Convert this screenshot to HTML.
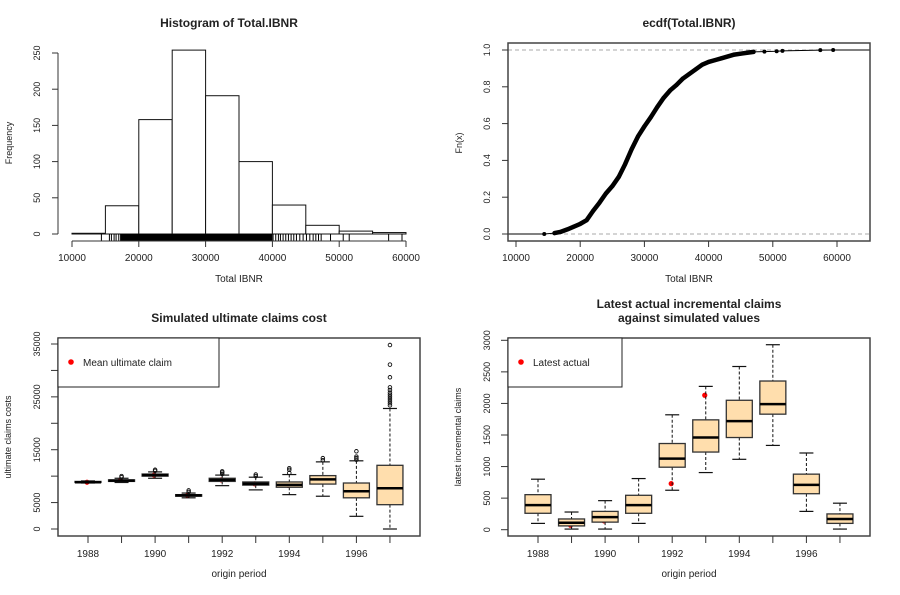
<!DOCTYPE html>
<html><head><meta charset="utf-8"><style>
html,body{margin:0;padding:0;background:#fff;}
svg text{font-family:"Liberation Sans",sans-serif;fill:#222;}
</style></head><body>
<svg id="s" width="900" height="590" viewBox="0 0 900 590" xmlns="http://www.w3.org/2000/svg"></svg>
<script>
// ---- Histogram data ----
const histBreaks = [10000,15000,20000,25000,30000,35000,40000,45000,50000,55000,60000];
const histCounts = [1,39,158,254,191,100,40,12,4,2];
const histYTicks = [0,50,100,150,200,250];
const ibnrXTicks = [10000,20000,30000,40000,50000,60000];
const rugValues = [14400,15600,15900,16300,16600,17000,17400,17800,18100,18600,19000,19300,19600,19900,20200,20500,20800,21100,21400,21700,22000,22300,22600,22900,23200,23500,23800,24100,24400,24700,25000,25300,25600,25900,26200,26500,26800,27100,27400,27700,28000,28300,28600,28900,29200,29500,29800,30100,30400,30700,31000,31300,31600,31900,32200,32500,32800,33100,33400,33700,34000,34300,34600,34900,35200,35500,35800,36100,36400,36700,37000,37300,37600,37900,38200,38500,38800,39100,39400,39700,40100,40500,40900,41200,41600,42000,42400,42800,43200,43600,44100,44600,45100,45600,46100,46500,46900,47300,48700,50600,51500,57400,59400];
// ---- ECDF data ----
const ecdfX = [14400,16000,17000,18000,19000,20000,21000,22000,23000,24000,25000,26000,27000,28000,29000,30000,31000,32000,33000,34000,35000,36000,37000,38000,39000,40000,41000,42000,43000,44000,45000,46000,47000,48700,50600,51500,57400,59400];
const ecdfY = [0.0,0.005,0.012,0.025,0.04,0.055,0.075,0.125,0.17,0.22,0.26,0.31,0.38,0.46,0.53,0.585,0.635,0.69,0.74,0.78,0.81,0.845,0.87,0.895,0.92,0.935,0.945,0.955,0.965,0.975,0.98,0.985,0.99,0.991,0.993,0.995,0.999,1.0];
const ecdfYTicks = [0,0.2,0.4,0.6,0.8,1.0];
// ---- Box plot data ----
const years = [1988,1989,1990,1991,1992,1993,1994,1995,1996,1997];
const yearLabels = ["1988","","1990","","1992","","1994","","1996",""];
const ultLow = [8700,8800,9600,5900,8200,7400,6500,6200,2400,0];
const ultQ1 = [8800,9000,10000,6200,9000,8300,7900,8500,5900,4600];
const ultMed = [8850,9150,10200,6350,9300,8550,8350,9400,7150,7700];
const ultQ3 = [9000,9300,10400,6500,9600,8900,8900,10100,8700,12050];
const ultHigh = [9100,9600,10800,6800,10200,9800,10300,12700,12900,22800];
const ultMean = [8850,9200,10200,6350,9300,8550,8250,9350,7400,8450];
const ultOutliers = [[],[9800,10000],[11000,11200],[7000,7300],[10400,10700,10900],[10000,10300],[10600,11200,11500],[13000,13400],[13100,13400,13700,14700],[23400,23800,24200,24600,25000,25400,25800,26300,26800,28700,31100,34800]];
const ultYTicks = [0,5000,10000,15000,20000,25000,30000,35000];
const ultYTickLabels = ["0","5000","","15000","","25000","","35000"];
const incLow = [100,10,10,100,625,905,1115,1335,290,10];
const incQ1 = [260,60,120,260,990,1230,1460,1830,570,100];
const incMed = [390,110,200,390,1125,1460,1720,1990,710,170];
const incQ3 = [555,170,290,545,1365,1740,2050,2355,880,250];
const incHigh = [800,280,460,810,1820,2270,2585,2930,1215,420];
const incActual = [420,70,140,465,730,2130,1600,1920,650,175];
const incYTicks = [0,500,1000,1500,2000,2500,3000];
const incYTickLabels = ["0","500","1000","1500","2000","2500","3000"];

const S = document.getElementById('s');
const NS = 'http://www.w3.org/2000/svg';
function mk(tag, attrs, parent, txt){
  const e = document.createElementNS(NS, tag);
  for (const k in attrs) e.setAttribute(k, attrs[k]);
  if (txt !== undefined) e.textContent = txt;
  (parent || S).appendChild(e);
  return e;
}
function grp(name){
  const g = mk('g', {});
  
  
  return g;
}
function label(g, x, y, t, size, bold, rot, name){
  const a = {x:x, y:y, 'font-size':size, 'text-anchor':'middle'};
  if (bold) a['font-weight'] = 'bold';
  if (rot) a.transform = 'rotate(-90 '+x+' '+y+')';
  const e = mk('text', a, g, t);
  
  
  return e;
}

// ===== Histogram =====
(function(){
  const g = grp('histogram-panel');
  const sx = v => 72 + (v-10000)*334/50000;
  const sy = v => 234 - v*181/250;
  label(g, 229, 27, 'Histogram of Total.IBNR', 12, true, false, 'histogram-title');
  for (let i=0;i<histCounts.length;i++){
    const r = mk('rect', {x:sx(histBreaks[i]), y:sy(histCounts[i]), width:sx(histBreaks[i+1])-sx(histBreaks[i]), height:sy(0)-sy(histCounts[i]), fill:'#fff', stroke:'#111', 'stroke-width':1}, g);
    
    
  }
  for (const v of rugValues){
    const l = mk('line', {x1:sx(v), x2:sx(v), y1:234, y2:241, stroke:'#000', 'stroke-width':1}, g);
    
    
  }
  mk('rect', {x:sx(17200), y:234, width:sx(40000)-sx(17200), height:7, fill:'#000'}, g);
  mk('line', {x1:58, x2:58, y1:sy(0), y2:sy(250), stroke:'#333'}, g);
  for (const t of histYTicks){
    mk('line', {x1:52, x2:58, y1:sy(t), y2:sy(t), stroke:'#333'}, g);
    label(g, 40, sy(t), String(t), 9, false, true, 'hist-y-tick-label');
  }
  mk('line', {x1:sx(10000), x2:sx(60000), y1:241, y2:241, stroke:'#333'}, g);
  for (const t of ibnrXTicks){
    mk('line', {x1:sx(t), x2:sx(t), y1:241, y2:247, stroke:'#333'}, g);
    label(g, sx(t), 261, String(t), 10, false, false, 'hist-x-tick-label');
  }
  label(g, 239, 282, 'Total IBNR', 10, false, false, 'hist-x-axis-title');
  label(g, 12, 143, 'Frequency', 9, false, true, 'hist-y-axis-title');
})();

// ===== ECDF =====
(function(){
  const g = grp('ecdf-panel');
  const sx = v => 516 + (v-10000)*321/50000;
  const sy = v => 234 - v*184;
  label(g, 689, 27, 'ecdf(Total.IBNR)', 12, true, false, 'ecdf-title');
  mk('line', {x1:508, x2:870, y1:sy(0), y2:sy(0), stroke:'#aaa', 'stroke-dasharray':'4,3'}, g);
  mk('line', {x1:508, x2:870, y1:sy(1), y2:sy(1), stroke:'#aaa', 'stroke-dasharray':'4,3'}, g);
  let d = 'M' + 508 + ' ' + sy(0) + ' L' + sx(ecdfX[0]) + ' ' + sy(0);
  for (let i=0;i<ecdfX.length;i++) d += ' L' + sx(ecdfX[i]) + ' ' + sy(ecdfY[i]);
  d += ' L870 ' + sy(1);
  mk('path', {d:d, fill:'none', stroke:'#000', 'stroke-width':1}, g);
  const core = ecdfX.map((x,i)=>sx(x)+' '+sy(ecdfY[i])).slice(1,33).join(' L');
  const p2 = mk('path', {d:'M'+core, fill:'none', stroke:'#000', 'stroke-width':4.5, 'stroke-linecap':'round', 'stroke-linejoin':'round'}, g);
  
  
  for (let i=0;i<ecdfX.length;i++){
    const c = mk('circle', {cx:sx(ecdfX[i]), cy:sy(ecdfY[i]), r:2, fill:'#000'}, g);
    
    
  }
  mk('rect', {x:508, y:43, width:362, height:198, fill:'none', stroke:'#444', 'stroke-width':1.5}, g);
  for (const t of ecdfYTicks){
    mk('line', {x1:502, x2:508, y1:sy(t), y2:sy(t), stroke:'#333'}, g);
    label(g, 490, sy(t), t.toFixed(1), 9, false, true, 'ecdf-y-tick-label');
  }
  for (const t of ibnrXTicks){
    mk('line', {x1:sx(t), x2:sx(t), y1:241, y2:247, stroke:'#333'}, g);
    label(g, sx(t), 261, String(t), 10, false, false, 'ecdf-x-tick-label');
  }
  label(g, 689, 282, 'Total IBNR', 10, false, false, 'ecdf-x-axis-title');
  label(g, 462, 143, 'Fn(x)', 9, false, true, 'ecdf-y-axis-title');
})();

// ===== Box plots =====
function boxPanel(ox, name, titleLines, sy, ticks, tickLabels, low, q1, med, q3, high, outliers, pts, legendText, legendW, ytitle){
  const g = grp(name);
  const sx = i => ox + 88 + i*33.55;
  titleLines.forEach((t,k)=> label(g, ox+239, (titleLines.length>1?308:322)+k*14, t, 12, true, false, name+'-title'));
  const lg = grp(name+'-legend');
  mk('rect', {x:ox+58, y:338, width:legendW, height:49, fill:'#fff', stroke:'#222', 'stroke-width':1}, lg);
  mk('circle', {cx:ox+71, cy:362, r:2.8, fill:'#f00'}, lg);
  const lt = mk('text', {x:ox+83, y:366, 'font-size':10}, lg, legendText);
  
  
  for (let i=0;i<years.length;i++){
    const bx = grp('box-'+years[i]);
    const cx = sx(i), w = 13;
    mk('line', {x1:cx, x2:cx, y1:sy(high[i]), y2:sy(q3[i]), stroke:'#111', 'stroke-dasharray':'3,2'}, bx);
    mk('line', {x1:cx, x2:cx, y1:sy(q1[i]), y2:sy(low[i]), stroke:'#111', 'stroke-dasharray':'3,2'}, bx);
    mk('line', {x1:cx-7, x2:cx+7, y1:sy(high[i]), y2:sy(high[i]), stroke:'#111', 'stroke-width':1.2}, bx);
    mk('line', {x1:cx-7, x2:cx+7, y1:sy(low[i]), y2:sy(low[i]), stroke:'#111', 'stroke-width':1.2}, bx);
    mk('rect', {x:cx-w, y:sy(q3[i]), width:2*w, height:Math.max(1,sy(q1[i])-sy(q3[i])), fill:'#FFDEAD', stroke:'#333', 'stroke-width':1.3}, bx);
    mk('line', {x1:cx-w, x2:cx+w, y1:sy(med[i]), y2:sy(med[i]), stroke:'#000', 'stroke-width':2.5}, bx);
    for (const o of outliers[i]) mk('circle', {cx:cx, cy:sy(o), r:1.8, fill:'none', stroke:'#111', 'stroke-width':0.9}, bx);
    const p = mk('circle', {cx:cx-1, cy:sy(pts[i]), r:2.6, fill:'#f00'}, g);
    
    
  }
  mk('rect', {x:ox+58, y:338, width:362, height:198, fill:'none', stroke:'#444', 'stroke-width':1.5}, g);
  ticks.forEach((t,k)=>{
    mk('line', {x1:ox+51, x2:ox+58, y1:sy(t), y2:sy(t), stroke:'#333'}, g);
    if (tickLabels[k]) label(g, ox+40, sy(t), tickLabels[k], 9, false, true, name+'-y-tick-label');
  });
  for (let i=0;i<years.length;i++){
    mk('line', {x1:sx(i), x2:sx(i), y1:536, y2:543, stroke:'#333'}, g);
    if (yearLabels[i]) label(g, sx(i), 557, yearLabels[i], 10, false, false, name+'-x-tick-label');
  }
  label(g, ox+239, 577, 'origin period', 10, false, false, name+'-x-axis-title');
  label(g, ox+11, 437, ytitle, 9, false, true, name+'-y-axis-title');
}
boxPanel(0, 'ultimate-claims-panel', ['Simulated ultimate claims cost'], v => 529 - v*185/35000, ultYTicks, ultYTickLabels,
  ultLow, ultQ1, ultMed, ultQ3, ultHigh, ultOutliers, ultMean, 'Mean ultimate claim', 161, 'ultimate claims costs');
boxPanel(450, 'incremental-claims-panel', ['Latest actual incremental claims','against simulated values'], v => 529.7 - v*189.4/3000, incYTicks, incYTickLabels,
  incLow, incQ1, incMed, incQ3, incHigh, years.map(()=>[]), incActual, 'Latest actual', 114, 'latest incremental claims');
</script>
</body></html>
